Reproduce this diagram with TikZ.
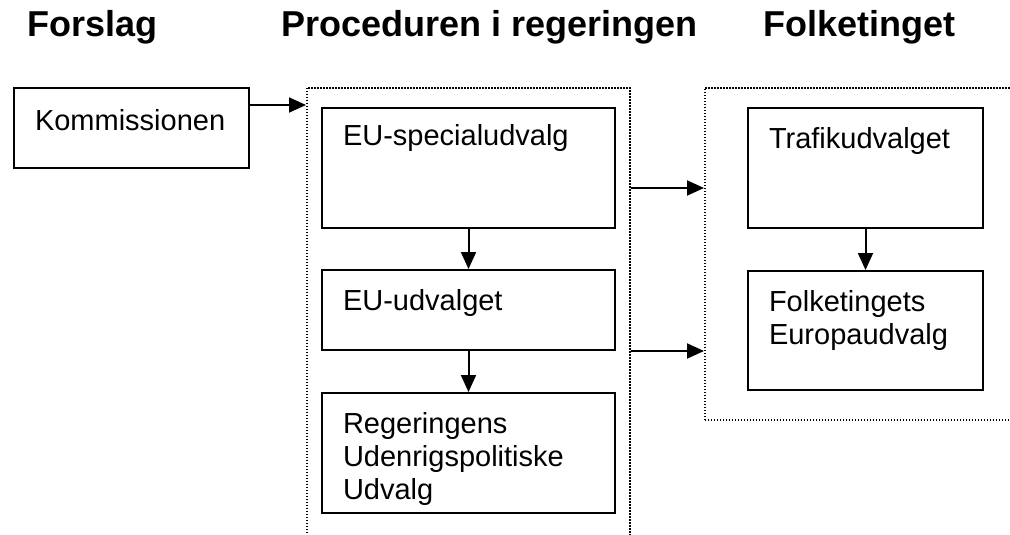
\documentclass[tikz,border=0pt]{standalone}
\usepackage{fontspec}
\setmainfont{Liberation Sans}
\usepackage{tikz}
\usetikzlibrary{arrows.meta}

\begin{document}
\begin{tikzpicture}[x=1pt, y=-1pt,
    kasse/.style={rectangle, draw, line width=2pt, anchor=north west, inner xsep=21pt, inner ysep=0pt, align=left, text height=40pt, font=\fontsize{29}{33}\selectfont},
    ramme/.style={rectangle, draw, line width=1.6pt, dash pattern=on 1.5pt off 1.5pt, anchor=north west, inner sep=0pt},
    titel/.style={anchor=base west, inner sep=0pt, font=\fontsize{36}{40}\selectfont\bfseries},
    pil/.style={line width=2pt, -{Triangle[length=17pt, width=15pt]}}]
    \useasboundingbox (0,0) rectangle (1010,535);
    \clip (0,0) rectangle (1010,535);

    % overskrifter
    \node[titel] (forslag) at (27,37) {Forslag};
    \node[titel] (procedure) at (281,37) {Proceduren i regeringen};
    \node[titel] (folketinget) at (763,37) {Folketinget};

    % stiplede rammer
    \node[ramme, minimum width=323pt, minimum height=470pt] (regering) at (306,87) {};
    \node[ramme, minimum width=330pt, minimum height=332pt] (folketing) at (704,87) {};

    \node[kasse, text width=193pt, text height=42pt, text depth=38pt] (kom) at (13,87) {Kommissionen};

    \node[kasse, text width=251pt, text height=37pt, text depth=83pt] (spec) at (321,107) {EU-specialudvalg};
    \node[kasse, text width=251pt, text depth=40pt] (euudv) at (321,269) {EU-udvalget};
    \node[kasse, text width=251pt, text depth=80pt] (ruu) at (321,392) {Regeringens\\Udenrigspolitiske\\Udvalg};

    \node[kasse, text width=193pt, text depth=80pt] (trafik) at (747,107) {Trafikudvalget};
    \node[kasse, text width=193pt, text depth=79pt] (feu) at (747,270) {Folketingets\\Europaudvalg};

    \coordinate (kompil) at ([yshift=-18pt]kom.north east);
    \draw[pil] (kompil) -- (kompil -| regering.west);
    \draw[pil] (spec) -- (euudv);
    \draw[pil] (euudv) -- (ruu);
    \draw[pil] (trafik) -- (feu);
    \draw[pil] (regering.east |- 0,188) -- (folketing.west |- 0,188);
    \draw[pil] (regering.east |- euudv.south) -- (folketing.west |- euudv.south);
\end{tikzpicture}
\end{document}
